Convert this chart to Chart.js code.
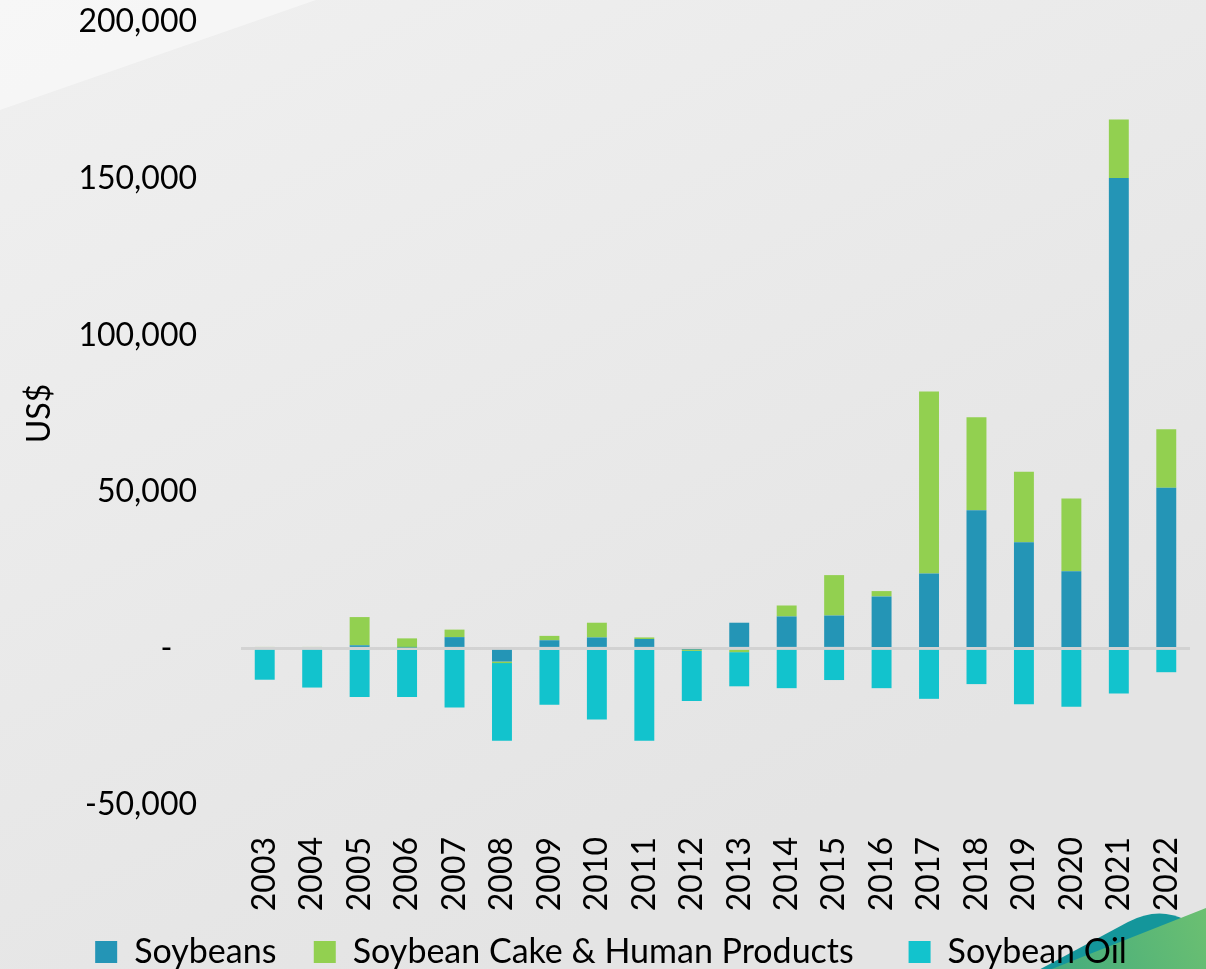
<!DOCTYPE html>
<html>
<head>
<meta charset="utf-8">
<title>Soybean trade balance</title>
<script src="https://cdn.jsdelivr.net/npm/chart.js@4.4.1/dist/chart.umd.min.js"></script>
<style>
  html, body { margin: 0; padding: 0; overflow: hidden; background: #e6e6e6; }
  #wrap { width: 1206px; height: 979px; }
</style>
</head>
<body>
<div id="wrap"><canvas id="chart" width="1206" height="979"></canvas></div>
<script>
const years = ['2003', '2004', '2005', '2006', '2007', '2008', '2009', '2010', '2011', '2012',
  '2013', '2014', '2015', '2016', '2017', '2018', '2019', '2020', '2021', '2022']

// net trade, US$ thousands read per product
const soybeans = [0, 0, 1000, 300, 3600, -4200, 2600, 3500, 3000, -300,
  8200, 10200, 10500, 16600, 23900, 44100, 33900, 24600, 150200, 51300]
const soyCake = [500, 500, 9000, 2900, 2400, -500, 1400, 4700, 500, -500,
  -1200, 3500, 12900, 1700, 58100, 29700, 22500, 23300, 18700, 18700]
const soyOil = [-10000, -12500, -15500, -15500, -18900, -24800, -18000, -22700, -29500, -16000,
  -10900, -12700, -10100, -12700, -16100, -11400, -17800, -18600, -14400, -7600]

const yTicks = [-50000, 0, 50000, 100000, 150000, 200000]

// trailing gap after each legend entry
const legendGaps = ['  ', '    ', '']

// slide style backdrop: grey wash, light wedge top-left, teal/green swoosh bottom-right
const backdrop = {
  id: 'backdrop',
  beforeDraw(chart) {
    const ctx = chart.ctx
    const w = chart.width
    const h = chart.height
    ctx.save()
    const g = ctx.createLinearGradient(0, 0, w * 0.4, h)
    g.addColorStop(0, '#f0f0f0')
    g.addColorStop(1, '#e4e4e4')
    ctx.fillStyle = g
    ctx.fillRect(0, 0, w, h)

    ctx.fillStyle = 'rgba(255,255,255,0.45)'
    ctx.beginPath()
    ctx.moveTo(0, 0)
    ctx.lineTo(316, 0)
    ctx.lineTo(0, 110)
    ctx.closePath()
    ctx.fill()

    ctx.fillStyle = '#14969b'
    ctx.beginPath()
    ctx.moveTo(1020, 980)
    ctx.lineTo(1128, 922)
    ctx.quadraticCurveTo(1158, 906, 1186, 920)
    ctx.lineTo(1206, 930)
    ctx.lineTo(1206, 980)
    ctx.closePath()
    ctx.fill()

    const gg = ctx.createLinearGradient(1030, 969, 1206, 900)
    gg.addColorStop(0, '#3fa97f')
    gg.addColorStop(1, '#6cc071')
    ctx.fillStyle = gg
    ctx.beginPath()
    ctx.moveTo(1024, 980)
    ctx.lineTo(1206, 908)
    ctx.lineTo(1206, 980)
    ctx.closePath()
    ctx.fill()
    ctx.restore()
  }
}

Chart.defaults.font.family = 'Lato'
Chart.defaults.font.size = 32
Chart.defaults.color = '#000'

new Chart(document.getElementById('chart'), {
  type: 'bar',
  data: {
    labels: years,
    datasets: [
      { label: 'Soybeans', data: soybeans, backgroundColor: '#2495b6' },
      { label: 'Soybean Cake & Human Products', data: soyCake, backgroundColor: '#92d050' },
      { label: 'Soybean Oil', data: soyOil, backgroundColor: '#12c3cd' }
    ]
  },
  options: {
    responsive: false,
    animation: false,
    datasets: { bar: { barPercentage: 0.42, categoryPercentage: 1, borderWidth: 0 } },
    layout: { padding: { top: 22, right: 16, left: 32, bottom: 0 } },
    plugins: {
      tooltip: { enabled: false },
      legend: {
        position: 'bottom',
        labels: {
          boxWidth: 22,
          boxHeight: 22,
          padding: 20,
          font: { size: 34 },
          generateLabels(chart) {
            const items = Chart.defaults.plugins.legend.labels.generateLabels(chart)
            items.forEach((it, i) => { it.text += legendGaps[i] })
            return items
          }
        }
      }
    },
    scales: {
      x: {
        stacked: true,
        grid: { display: false },
        border: { display: false },
        ticks: { minRotation: 90, maxRotation: 90, padding: 24, autoSkip: false },
        afterFit(scale) {
          scale.height = 110
          scale.paddingLeft = 0
          scale.paddingRight = 0
        }
      },
      y: {
        stacked: true,
        min: -50000,
        max: 200000,
        afterBuildTicks(scale) { scale.ticks = yTicks.map(v => ({ value: v })) },
        grid: {
          drawTicks: false,
          lineWidth: 3,
          color: c => (c.tick && c.tick.value === 0 ? 'rgba(205,205,205,0.8)' : 'transparent')
        },
        border: { display: false },
        ticks: {
          padding: 44,
          callback: v => (v === 0 ? '-   ' : v.toLocaleString('en-US'))
        },
        title: { display: true, text: 'US$', padding: { top: -12, bottom: 0 } },
        afterFit(scale) {
          scale.width = 209
          scale.paddingTop = 0
          scale.paddingBottom = 0
        }
      }
    }
  },
  plugins: [backdrop]
})
</script>
</body>
</html>
